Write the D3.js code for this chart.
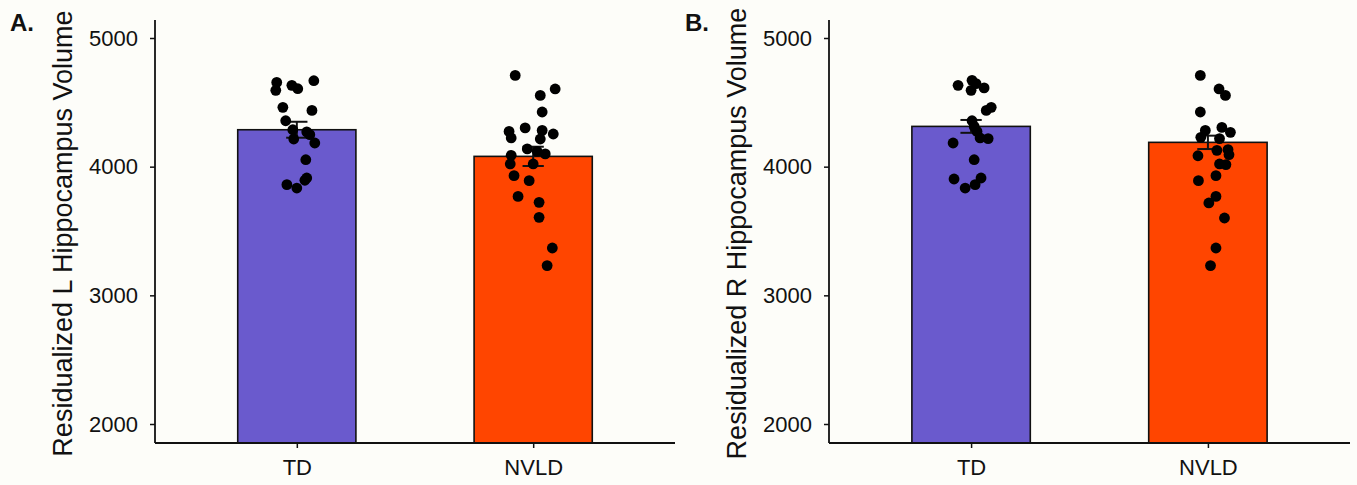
<!doctype html>
<html lang="en">
<head>
<meta charset="utf-8">
<style>
body, html {
  margin: 0;
  padding: 0;
  background: #fdfdf9;
  overflow: hidden;
}
svg text { font-family: "Liberation Sans", Arial, Helvetica, sans-serif; fill: #111; }
</style>
</head>
<body>
<div id="chart"></div>
<script src="https://d3js.org/d3.v7.min.js"></script>
<script>

// groups
const groups = ["TD", "NVLD"];
const barColors = ["#6a5acd", "#ff4500"];
const yTicks = [2000, 3000, 4000, 5000];

// panel A: left hippocampus
const meansL = [4287, 4080];
const seL = [62, 75];
const pointsL_TD = [4655, 4593, 4632, 4606, 4668, 4461, 4437, 4357, 4287, 4215, 4270, 4249, 4184, 4054, 3912, 3894, 3860, 3834];
const jitterL_TD = [-0.085, -0.089, -0.021, 0.004, 0.072, -0.059, 0.064, -0.047, -0.017, -0.013, 0.042, 0.055, 0.076, 0.038, 0.042, 0.034, -0.042, 0];
const pointsL_NVLD = [4709, 4604, 4554, 4425, 4301, 4274, 4223, 4282, 4254, 4215, 4138, 4119, 4099, 4088, 4021, 4021, 3930, 3891, 3769, 3723, 3606, 3368, 3231];
const jitterL_NVLD = [-0.076, 0.093, 0.030, 0.038, -0.034, -0.102, -0.093, 0.038, 0.085, 0.030, -0.025, 0.017, 0.051, -0.093, -0.097, 0, -0.081, -0.017, -0.064, 0.025, 0.025, 0.081, 0.059];

// panel B: right hippocampus
const meansR = [4313, 4189];
const seR = [50, 52];
const pointsR_TD = [4632, 4671, 4645, 4593, 4612, 4461, 4437, 4357, 4313, 4274, 4223, 4218, 4184, 4054, 3912, 3860, 3904, 3834];
const jitterR_TD = [-0.055, 0.004, 0.021, 0, 0.055, 0.085, 0.064, 0.004, 0.013, 0.025, 0.038, 0.072, -0.076, 0.013, 0.042, 0.017, -0.072, -0.025];
const pointsR_NVLD = [4709, 4604, 4554, 4425, 4305, 4267, 4282, 4228, 4218, 4127, 4132, 4093, 4085, 4021, 4016, 3930, 3891, 3769, 3718, 3601, 3368, 3231];
const jitterR_NVLD = [-0.032, 0.047, 0.074, -0.032, 0.059, 0.095, -0.011, -0.030, 0.049, 0.038, 0.085, 0.089, -0.042, 0.049, 0.076, 0.034, -0.040, 0.034, 0.004, 0.070, 0.034, 0.011];

const W = 1357, H = 485;
const svg = d3.select("#chart").append("svg")
  .attr("width", W).attr("height", H);

svg.append("rect").attr("width", W).attr("height", H).attr("fill", "#fdfdf9");

const drawPanel = (opt) => {
  const g = svg.append("g");
  const top = 20, bottom = 443;

  const x = d3.scaleLinear().domain([0.4, 2.6]).range([opt.left, opt.right]);
  const y = d3.scaleLinear().domain([2000, 5000]).range([424, 38]);

  // bars
  g.selectAll("rect.bar").data(opt.means).enter().append("rect")
    .attr("class", "bar")
    .attr("x", (d, i) => x(i + 1 - 0.25))
    .attr("width", x(1.25) - x(0.75))
    .attr("y", (d) => y(d))
    .attr("height", (d) => bottom - y(d))
    .attr("fill", (d, i) => barColors[i])
    .attr("stroke", "#111")
    .attr("stroke-width", 1.6);

  // error bars
  const eb = g.selectAll("g.eb").data(opt.means).enter().append("g")
    .attr("stroke", "#111").attr("stroke-width", 2);
  eb.append("line")
    .attr("x1", (d, i) => x(i + 1)).attr("x2", (d, i) => x(i + 1))
    .attr("y1", (d, i) => y(d - opt.se[i])).attr("y2", (d, i) => y(d + opt.se[i]));
  eb.append("line")
    .attr("x1", (d, i) => x(i + 1 - 0.045)).attr("x2", (d, i) => x(i + 1 + 0.045))
    .attr("y1", (d, i) => y(d - opt.se[i])).attr("y2", (d, i) => y(d - opt.se[i]));
  eb.append("line")
    .attr("x1", (d, i) => x(i + 1 - 0.045)).attr("x2", (d, i) => x(i + 1 + 0.045))
    .attr("y1", (d, i) => y(d + opt.se[i])).attr("y2", (d, i) => y(d + opt.se[i]));

  // points
  opt.points.forEach((vals, gi) => {
    g.selectAll(null).data(vals).enter().append("circle")
      .attr("cx", (d, i) => x(gi + 1 + opt.jitter[gi][i]))
      .attr("cy", (d) => y(d))
      .attr("r", 5.4)
      .attr("fill", "#000");
  });

  // y axis
  const ya = g.append("g").attr("transform", `translate(${opt.left},0)`)
    .call(d3.axisLeft(y).tickValues(yTicks).tickSize(5).tickPadding(12).tickFormat(d3.format("d")));
  ya.select(".domain").remove();
  ya.selectAll("line").attr("stroke", "#111").attr("stroke-width", 1.5);
  ya.selectAll("text").style("font-size", "22px").attr("fill", "#111");
  g.append("line").attr("x1", opt.left).attr("x2", opt.left)
    .attr("y1", top).attr("y2", bottom)
    .attr("stroke", "#111").attr("stroke-width", 1.8);

  // x axis
  const xa = g.append("g").attr("transform", `translate(0,${bottom})`)
    .call(d3.axisBottom(x).tickValues([1, 2]).tickSize(5).tickPadding(11).tickFormat((d) => groups[d - 1]));
  xa.select(".domain").remove();
  xa.selectAll("line").attr("stroke", "#111").attr("stroke-width", 1.5);
  xa.selectAll("text").style("font-size", "22px").attr("fill", "#111");
  g.append("line").attr("x1", opt.left).attr("x2", opt.right)
    .attr("y1", bottom).attr("y2", bottom)
    .attr("stroke", "#111").attr("stroke-width", 1.8);

  // y label
  g.append("text")
    .attr("transform", `translate(${opt.left - 83},${(top + bottom) / 2 + 2}) rotate(-90)`)
    .attr("text-anchor", "middle")
    .style("font-size", "27px")
    .text(opt.ylabel);

  // panel letter
  g.append("text")
    .attr("x", opt.letterX).attr("y", 31)
    .style("font-size", "24px").style("font-weight", "bold")
    .text(opt.letter);
};

drawPanel({
  left: 155, right: 675,
  means: meansL, se: seL,
  points: [pointsL_TD, pointsL_NVLD],
  jitter: [jitterL_TD, jitterL_NVLD],
  ylabel: "Residualized L Hippocampus Volume",
  letter: "A.", letterX: 10
});

drawPanel({
  left: 829, right: 1350,
  means: meansR, se: seR,
  points: [pointsR_TD, pointsR_NVLD],
  jitter: [jitterR_TD, jitterR_NVLD],
  ylabel: "Residualized R Hippocampus Volume",
  letter: "B.", letterX: 685
});

</script>
</body>
</html>
